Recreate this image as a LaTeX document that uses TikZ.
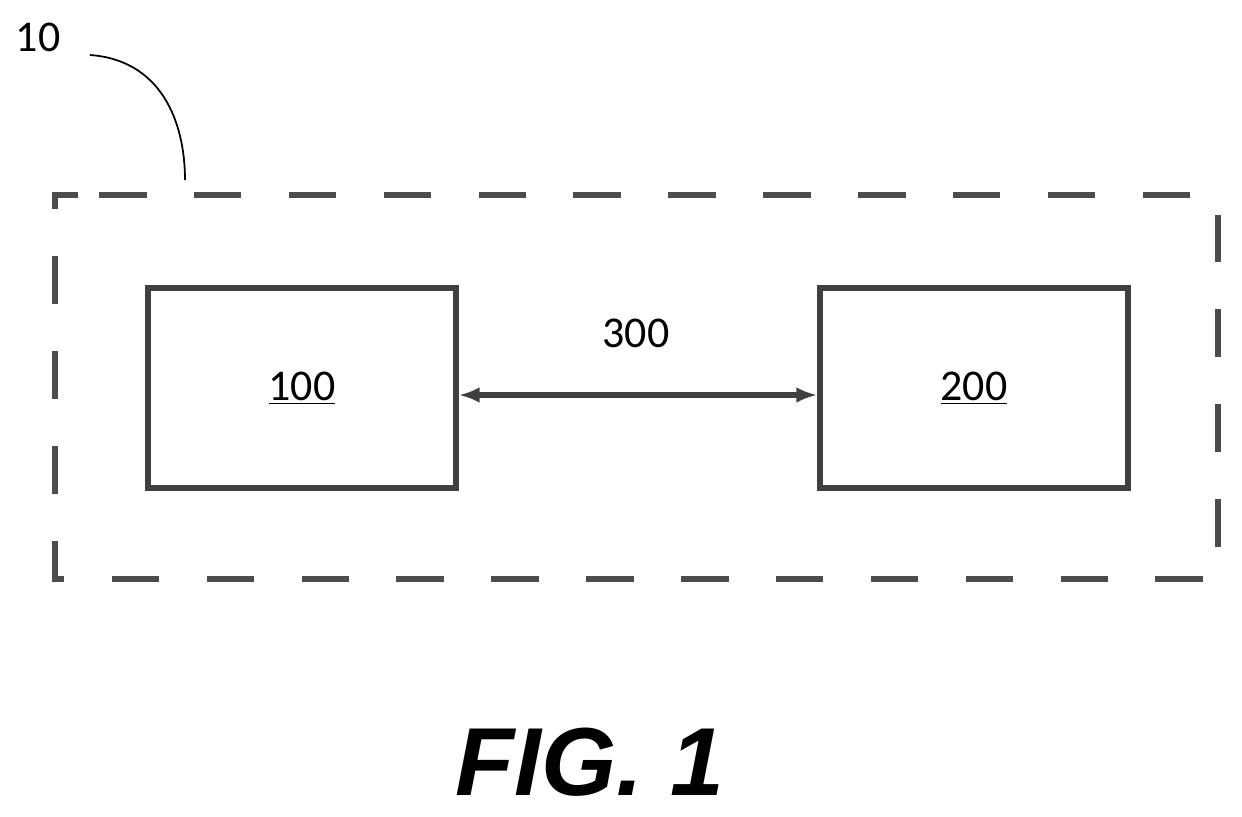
\documentclass[tikz,border=0pt]{standalone}
\usepackage{fontspec}
\setmainfont{Carlito}
\newfontfamily\figfont{Liberation Sans}
\usetikzlibrary{arrows.meta}
\begin{document}
\begin{tikzpicture}[x=0.02cm,y=-0.02cm,
  box/.style={draw=black!75,line width=3pt,minimum width=308*0.02cm,minimum height=200*0.02cm,inner sep=0pt,font=\fontsize{25}{28}\selectfont},
  lbl/.style={font=\fontsize{25}{28}\selectfont,inner sep=0pt}]
\useasboundingbox (0,0) rectangle (1242,816);
\draw[black!70,line width=3.4pt,dash pattern=on 27pt off 27pt,dash phase=-12pt] (78,195) -- (1218,195) -- (1218,579) -- (55,579) -- (55,195) -- cycle;
\node[box] (a) at (302,388) {\raisebox{-0.2em}{\underline{100}}};
\node[box] (b) at (974,388) {\underline{200}};
\draw[black!75,line width=3pt,{Latex[length=12pt,width=9pt]}-{Latex[length=12pt,width=9pt]}] (a.east |- 0,395) -- (b.west |- 0,395);
\node[lbl] (l300) at (636,333) {300};
\node[lbl] (l10) at (38,37) {10};
\coordinate (c) at (185,180);
\draw[line width=1pt] (90,55) .. controls (160,60) and (185,120) .. (c);
\node[font=\figfont\bfseries\itshape\fontsize{55}{58}\selectfont] (fig) at (590,762) {FIG. 1};
\end{tikzpicture}
\end{document}
